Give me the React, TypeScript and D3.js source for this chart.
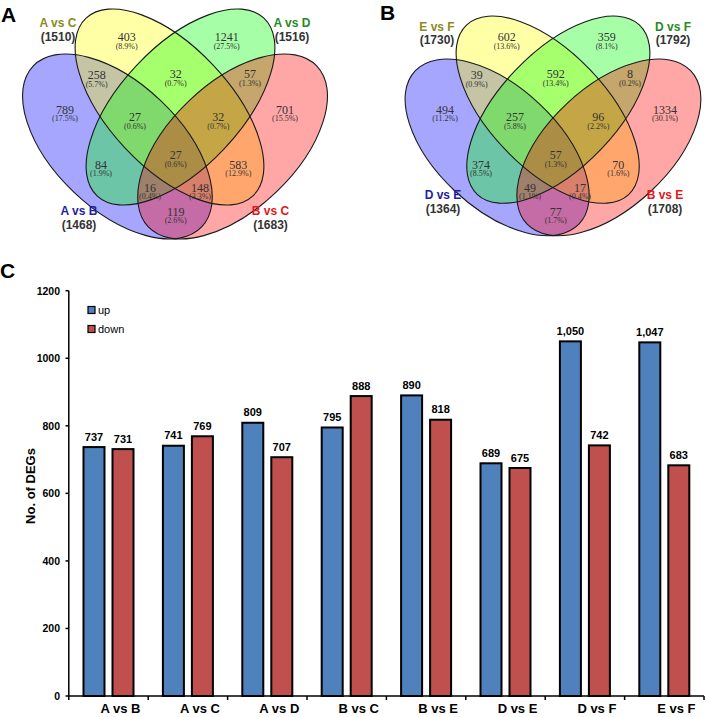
import React from 'react';
import * as d3 from 'd3';

// ---------- Bar chart data ----------
const categories = ['A vs B', 'A vs C', 'A vs D', 'B vs C', 'B vs E', 'D vs E', 'D vs F', 'E vs F'];
const upValues = [737, 741, 809, 795, 890, 689, 1050, 1047];
const downValues = [731, 769, 707, 888, 818, 675, 742, 683];
const yTicks = [0, 200, 400, 600, 800, 1000, 1200];
const seriesNames = ['up', 'down'];

// ---------- Venn data ----------
// region masks: bit0 = set1 (blue), bit1 = set2 (yellow), bit2 = set3 (green), bit3 = set4 (red)
const regionMasks = [1, 2, 4, 8, 3, 6, 12, 5, 10, 9, 7, 14, 13, 11, 15];

const vennASets = ['A vs B', 'A vs C', 'A vs D', 'B vs C'];
const vennATotals = [1468, 1510, 1516, 1683];
const vennACounts = [789, 403, 1241, 701, 258, 32, 57, 84, 583, 119, 27, 32, 16, 148, 27];
const vennAPcts = ['17.5%', '8.9%', '27.5%', '15.5%', '5.7%', '0.7%', '1.3%', '1.9%', '12.9%', '2.6%', '0.6%', '0.7%', '0.4%', '3.3%', '0.6%'];

const vennBSets = ['D vs E', 'E vs F', 'D vs F', 'B vs E'];
const vennBTotals = [1364, 1730, 1792, 1708];
const vennBCounts = [494, 602, 359, 1334, 39, 592, 8, 374, 70, 77, 257, 96, 49, 17, 57];
const vennBPcts = ['11.2%', '13.6%', '8.1%', '30.1%', '0.9%', '13.4%', '0.2%', '8.5%', '1.6%', '1.7%', '5.8%', '2.2%', '1.1%', '0.4%', '1.3%'];

// ---------- Layout (geometry, not data) ----------
const ELLIPSES = [
  { cx: 117.4, cy: 146.5, rx: 116.5, ry: 63.1, rot: 43.66, fill: '#0000ff' },
  { cx: 169.5, cy: 107, rx: 121.9, ry: 60.5, rot: 46.8, fill: '#ffff00' },
  { cx: 180.5, cy: 107, rx: 121.9, ry: 60.5, rot: -46.8, fill: '#00ff00' },
  { cx: 232.6, cy: 146.5, rx: 116.5, ry: 63.1, rot: -43.66, fill: '#ff0000' },
];
// label anchor for each mask: [x, number-center-y, percent-center-y]
const REGION_POS: Record<number, [number, number, number]> = {
  1: [65, 110, 118.5],
  2: [126.7, 36.7, 46.5],
  4: [226.7, 36.7, 46.5],
  8: [285, 110, 118.5],
  3: [96.7, 75, 84.3],
  6: [175.7, 74, 83.3],
  12: [250, 74, 83.3],
  5: [101, 165, 173.3],
  10: [238.3, 165, 173.3],
  9: [175.7, 211.7, 220.7],
  7: [135, 117.3, 126.7],
  14: [218.3, 117.3, 126.7],
  13: [150, 188.3, 196.7],
  11: [200, 188.3, 196.7],
  15: [175.7, 155, 164.3],
};
const SET_COLORS = ['#1f1f9e', '#8e8a1a', '#268a26', '#e3161c'];

interface VennProps {
  sets: string[];
  totals: number[];
  counts: number[];
  pcts: string[];
  geomTransform: string;
  labelDx: number;
  setLabelPos: [number, number][];
}

function Venn({ sets, totals, counts, pcts, geomTransform, labelDx, setLabelPos }: VennProps) {
  return (
    <g>
      <g transform={geomTransform}>
        {ELLIPSES.map((e, i) => (
          <ellipse key={'f' + i} cx={e.cx} cy={e.cy} rx={e.rx} ry={e.ry}
            transform={`rotate(${e.rot} ${e.cx} ${e.cy})`} fill={e.fill} fillOpacity={0.35} stroke="none" />
        ))}
        {ELLIPSES.map((e, i) => (
          <ellipse key={'s' + i} cx={e.cx} cy={e.cy} rx={e.rx} ry={e.ry}
            transform={`rotate(${e.rot} ${e.cx} ${e.cy})`} fill="none" stroke="#1a1a1a" strokeWidth={1.1}
            vectorEffect="non-scaling-stroke" />
        ))}
      </g>
      {regionMasks.map((m, i) => {
        const p = REGION_POS[m];
        return (
          <g key={'r' + m}>
            <text x={p[0] + labelDx} y={p[1] + 4} textAnchor="middle" fontFamily="'Liberation Serif', serif"
              fontSize={12} fill="#333">{counts[i]}</text>
            <text x={p[0] + labelDx} y={p[2] + 2.6} textAnchor="middle" fontFamily="'Liberation Serif', serif"
              fontSize={8} fill="#333">({pcts[i]})</text>
          </g>
        );
      })}
      {sets.map((s, i) => (
        <g key={'set' + i} fontFamily="'Liberation Sans', Arial, sans-serif" fontWeight="bold" fontSize={12} textAnchor="middle">
          <text x={setLabelPos[i][0]} y={setLabelPos[i][1]} fill={SET_COLORS[i]}>{s}</text>
          <text x={setLabelPos[i][0]} y={setLabelPos[i][1] + 13.5} fill="#333">({totals[i]})</text>
        </g>
      ))}
    </g>
  );
}

export default function App() {
  const W = 708, H = 717;
  const x0 = d3.scaleBand<string>().domain(categories).range([68.8, 704]).paddingInner(0).paddingOuter(0);
  const x1 = d3.scaleBand<string>().domain(seriesNames).range([0, x0.bandwidth()]).paddingInner(0.276).paddingOuter(0.507);
  const y = d3.scaleLinear().domain([0, 1200]).range([696, 290.7]);
  const fmt = d3.format(',');
  const colors: Record<string, string> = { up: '#4F81BD', down: '#C0504D' };
  const rows = categories.map((c, i) => ({ c, up: upValues[i], down: downValues[i] }));
  const tickXs = [...categories.map((c) => x0(c) as number), x0.range()[1]];

  return (
    <svg width={W} height={H} viewBox={`0 0 ${W} ${H}`}
      style={{ position: 'absolute', left: 0, top: 0, background: '#fff' }}>
      <rect x={0} y={0} width={W} height={H} fill="#fff" />
      {/* Panel labels */}
      <g fontFamily="'Liberation Sans', Arial, sans-serif" fontWeight="bold" fontSize={21} fill="#000">
        <text x={1} y={21.5}>A</text>
        <text x={380} y={19.5}>B</text>
        <text x={0} y={278}>C</text>
      </g>

      <Venn sets={vennASets} totals={vennATotals} counts={vennACounts} pcts={vennAPcts}
        geomTransform="" labelDx={0}
        setLabelPos={[[79, 215], [58, 27], [292, 27], [270.5, 215]]} />
      <Venn sets={vennBSets} totals={vennBTotals} counts={vennBCounts} pcts={vennBPcts}
        geomTransform="translate(553,18) scale(0.97,0.955) translate(-175,-11)" labelDx={380}
        setLabelPos={[[443, 199], [437, 30.5], [673, 30.5], [665, 199]]} />

      {/* Bar chart */}
      <g>
        {rows.map((r) => (
          <g key={r.c} transform={`translate(${x0(r.c)},0)`}>
            {seriesNames.map((s) => {
              const v = (r as any)[s] as number;
              const bx = x1(s) as number;
              return (
                <g key={s}>
                  <rect x={bx} y={y(v)} width={x1.bandwidth()} height={y(0) - y(v)} fill={colors[s]}
                    stroke="#000" strokeWidth={2} />
                  <text x={bx + x1.bandwidth() / 2} y={y(v) - 6.5} textAnchor="middle"
                    fontFamily="'Liberation Sans', Arial, sans-serif" fontWeight="bold" fontSize={11} fill="#000">
                    {fmt(v)}
                  </text>
                </g>
              );
            })}
          </g>
        ))}
        {/* y axis */}
        <line x1={68.8} x2={68.8} y1={y(1200)} y2={y(0)} stroke="#000" strokeWidth={1.5} />
        {yTicks.map((t) => (
          <g key={t}>
            <line x1={65.5} x2={68.8} y1={y(t)} y2={y(t)} stroke="#000" strokeWidth={1.5} />
            <text x={60} y={y(t) + 4} textAnchor="end" fontFamily="'Liberation Sans', Arial, sans-serif"
              fontWeight="bold" fontSize={10.5} fill="#000">{t}</text>
          </g>
        ))}
        {/* x axis */}
        <line x1={68} x2={704} y1={y(0)} y2={y(0)} stroke="#000" strokeWidth={1.5} />
        {tickXs.map((tx, i) => (
          <line key={i} x1={tx} x2={tx} y1={y(0)} y2={y(0) + 4} stroke="#000" strokeWidth={1.5} />
        ))}
        {categories.map((c) => (
          <text key={c} x={(x0(c) as number) + x0.bandwidth() / 2 + 12} y={713}
            textAnchor="middle" fontFamily="'Liberation Sans', Arial, sans-serif" fontWeight="bold" fontSize={13} fill="#000">
            {c}
          </text>
        ))}
        {/* y title */}
        <text transform="translate(35,486) rotate(-90)" textAnchor="middle"
          fontFamily="'Liberation Sans', Arial, sans-serif" fontWeight="bold" fontSize={13} fill="#000">No. of DEGs</text>
        {/* legend */}
        {seriesNames.map((s, i) => (
          <g key={s} transform={`translate(88,${306.5 + i * 19})`}>
            <rect x={0} y={0} width={7} height={7} fill={colors[s]} stroke="#000" strokeWidth={1.2} />
            <text x={10} y={7} fontFamily="'Liberation Sans', Arial, sans-serif" fontSize={11} fill="#000">{s}</text>
          </g>
        ))}
      </g>
    </svg>
  );
}
